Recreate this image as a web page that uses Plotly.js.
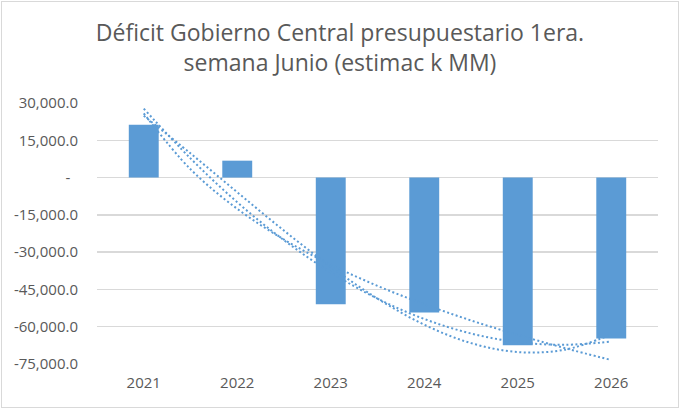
<!DOCTYPE html>
<html>
<head>
<meta charset="utf-8">
<script src="https://cdn.plot.ly/plotly-3.0.1.min.js"></script>
<style>
  body { margin: 0; background: #fff; }
  #myDiv { position: absolute; left: 0; top: 0; width: 680px; height: 409px; }
  #frame { position: absolute; left: 1px; top: 1px; width: 676px; height: 405px;
           border: 1px solid #d9d9d9; pointer-events: none; }
</style>
</head>
<body>
<div id="myDiv"></div>
<div id="frame"></div>
<script>
var years = ['2021', '2022', '2023', '2024', '2025', '2026'];
var yearPos = [1, 2, 3, 4, 5, 6];
var deficit = [21300, 6800, -51000, -54300, -67500, -64700];

// dotted trend curves at half-year steps
var trendX = [1, 1.5, 2, 2.5, 3, 3.5, 4, 4.5, 5, 5.5, 6];
var trendLog = [25800, 3370, -12570, -24920, -35040, -43560, -50940, -57470, -63280, -68580, -73400];
var trendPoly2 = [27740, 7720, -9930, -25220, -38140, -48700, -56890, -62720, -66180, -67270, -66000];
var trendPoly3 = [24870, 9730, -5910, -21340, -35840, -48700, -59190, -66590, -70190, -69280, -63130];

var yTicks = [30000, 15000, 0, -15000, -30000, -45000, -60000, -75000];
var yTickText = ['30,000.0', '15,000.0', '-\u00a0\u00a0', '-15,000.0', '-30,000.0', '-45,000.0', '-60,000.0', '-75,000.0'];

var blue = '#5b9bd5';

var bars = {
    x: yearPos,
    y: deficit,
    type: 'bar',
    width: 0.32,
    marker: {color: blue},
    hoverinfo: 'y'
};

function trend(ys) {
    return {
        x: trendX,
        y: ys,
        type: 'scatter',
        mode: 'lines',
        line: {color: blue, width: 2, dash: '2px,2.5px', shape: 'spline'},
        hoverinfo: 'skip'
    };
}

var layout = {
    width: 680,
    height: 409,
    showlegend: false,
    margin: {l: 97, r: 22, t: 103, b: 45, pad: 0},
    paper_bgcolor: '#fff',
    plot_bgcolor: '#fff',
    font: {family: 'Open Sans, sans-serif', color: '#595959', size: 15},
    title: {
        text: 'Déficit Gobierno Central presupuestario 1era.<br>semana Junio (estimac k MM)',
        font: {family: 'Open Sans, sans-serif', size: 23, color: '#595959'},
        x: 0.5, xanchor: 'center',
        yref: 'container', y: 0.9, yanchor: 'middle'
    },
    xaxis: {
        range: [0.5, 6.5],
        tickvals: yearPos,
        ticktext: years,
        showgrid: false,
        zeroline: false,
        showline: false,
        ticks: '',
        ticklabelstandoff: 8,
        fixedrange: true
    },
    yaxis: {
        range: [-75000, 30000],
        tickvals: yTicks,
        ticktext: yTickText,
        showgrid: true,
        gridcolor: '#d9d9d9',
        gridwidth: 1.3,
        zeroline: false,
        showline: false,
        ticks: '',
        ticklabelstandoff: 18,
        fixedrange: true
    }
};

var data = [bars, trend(trendLog), trend(trendPoly2), trend(trendPoly3)];

Plotly.newPlot('myDiv', data, layout, {displayModeBar: false, staticPlot: true});
</script>
</body>
</html>
